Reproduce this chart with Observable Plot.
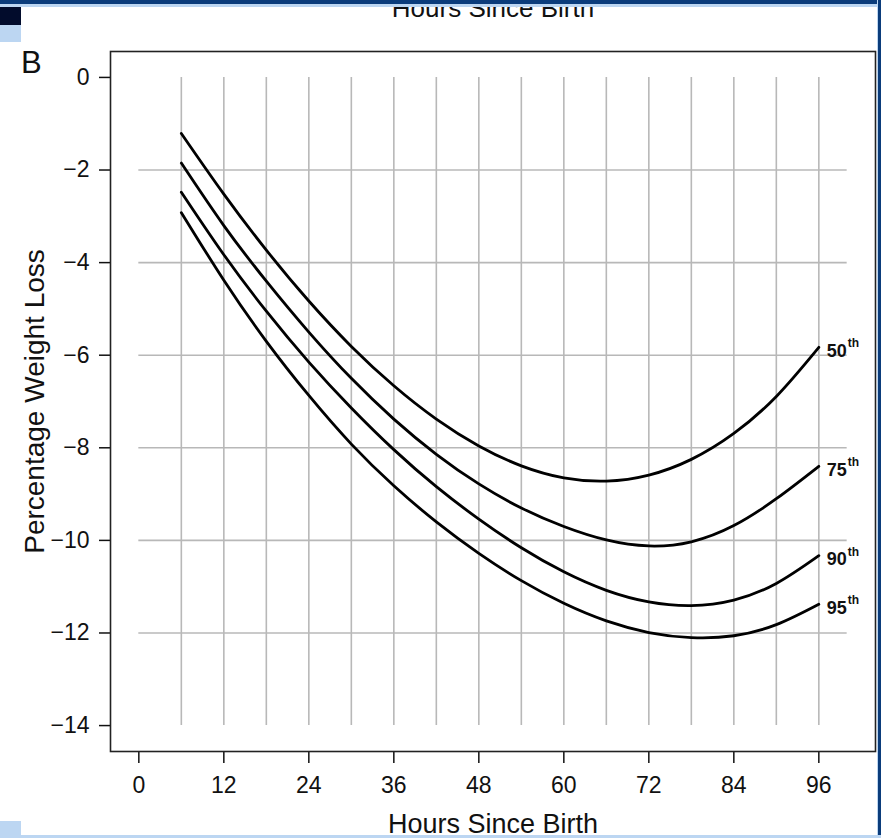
<!DOCTYPE html>
<html>
<head>
<meta charset="utf-8">
<script src="https://cdn.jsdelivr.net/npm/d3@7"></script>
<script src="https://cdn.jsdelivr.net/npm/@observablehq/plot@0.6"></script>
<style>
  html, body { margin: 0; padding: 0; background: #fff; }
  #wrap { position: relative; width: 881px; height: 838px; overflow: hidden;
          font-family: "Liberation Sans", Arial, sans-serif; background: #fff; }
  #wrap svg { position: absolute; left: 0; top: 0; }
  .deco { position: absolute; z-index: 3; }
  .txt { position: absolute; white-space: nowrap; color: #111; z-index: 1; }
</style>
</head>
<body>
<div id="wrap">
  <div class="txt" id="prevTitle" style="left:493px; top:-5px; font-size:26px; line-height:26px; transform:translateX(-50%);">Hours Since Birth</div>
  <div class="txt" id="panel" style="left:21px; top:47px; font-size:31px; line-height:31px;">B</div>
  <div class="deco" style="left:0; top:0; width:881px; height:4px; background:#0b3c7b;"></div>
  <div class="deco" style="left:0; top:4px; width:877px; height:3px; background:#bcd6f2;"></div>
  <div class="deco" style="left:0; top:7px; width:21px; height:18px; background:#020c2c;"></div>
  <div class="deco" style="left:0; top:25px; width:21px; height:17px; background:#bcd6f2;"></div>
  <div class="deco" style="left:877px; top:0; width:1px; height:838px; background:#bcd6f2;"></div>
  <div class="deco" style="left:878px; top:0; width:3px; height:838px; background:#0b3c7b;"></div>
  <div class="deco" style="left:0; top:835px; width:881px; height:3px; background:#bcd6f2;"></div>
  <div class="deco" style="left:0; top:821px; width:21px; height:17px; background:#bcd6f2;"></div>
</div>
<script>
// ---- data ----
const hours = [6, 12, 18, 24, 30, 36, 42, 48, 54, 60, 66, 72, 78, 84, 90, 96];
const p50 = [-1.21, -2.52, -3.73, -4.83, -5.81, -6.66, -7.38, -7.96, -8.39, -8.65, -8.72, -8.59, -8.25, -7.69, -6.89, -5.83];
const p75 = [-1.85, -3.20, -4.40, -5.50, -6.50, -7.38, -8.14, -8.78, -9.30, -9.70, -9.99, -10.12, -10.03, -9.68, -9.10, -8.40];
const p90 = [-2.48, -3.83, -5.05, -6.15, -7.14, -8.04, -8.84, -9.54, -10.16, -10.68, -11.08, -11.33, -11.41, -11.29, -10.93, -10.33];
const p95 = [-2.92, -4.38, -5.70, -6.87, -7.92, -8.82, -9.60, -10.28, -10.87, -11.36, -11.74, -11.99, -12.10, -12.06, -11.82, -11.38];
const percentiles = ["50", "75", "90", "95"];
const suffix = "th";

const xTicks = [0, 12, 24, 36, 48, 60, 72, 84, 96];
const yTicks = [0, -2, -4, -6, -8, -10, -12, -14];
const gridHours = [6, 12, 18, 24, 30, 36, 42, 48, 54, 60, 66, 72, 78, 84, 90, 96];
const gridValues = [-2, -4, -6, -8, -10, -12];
const xGridExtent = [0, 100];
const yGridExtent = [-14, 0];
const xDomain = [-4, 104];
const yDomain = [-14.56, 0.56];
const xLabel = "Hours Since Birth";
const yLabel = "Percentage Weight Loss";

// ---- build tables ----
const seriesValues = [p50, p75, p90, p95];
const rows = [];
seriesValues.forEach((vals, i) => {
  vals.forEach((v, j) => rows.push({hour: hours[j], value: v, pct: percentiles[i]}));
});
const ends = seriesValues.map((vals, i) => ({
  hour: hours[hours.length - 1], value: vals[vals.length - 1], pct: percentiles[i]
}));

const chart = Plot.plot({
  width: 881,
  height: 838,
  marginLeft: 110,
  marginRight: 6,
  marginTop: 51,
  marginBottom: 87,
  style: {fontFamily: "'Liberation Sans', Arial, sans-serif", color: "#111", background: "transparent"},
  x: {domain: xDomain},
  y: {domain: yDomain},
  marks: [
    Plot.ruleX(gridHours, {y1: yGridExtent[0], y2: yGridExtent[1], stroke: "#b8b8b8", strokeWidth: 1.6}),
    Plot.ruleY(gridValues, {x1: xGridExtent[0], x2: xGridExtent[1], stroke: "#b8b8b8", strokeWidth: 1.6}),
    Plot.line(rows, {x: "hour", y: "value", z: "pct", curve: "natural", stroke: "#000", strokeWidth: 2.8}),
    Plot.text(ends, {x: "hour", y: "value", text: "pct", textAnchor: "start", dx: 8, dy: 4,
      fontSize: 18, fontWeight: "bold", fill: "#111"}),
    Plot.text(ends, {x: "hour", y: "value", text: () => suffix, textAnchor: "start", dx: 29, dy: -4,
      fontSize: 12, fontWeight: "bold", fill: "#111"}),
    Plot.axisX(xTicks, {anchor: "bottom", tickSize: 12, tickPadding: 13, fontSize: 23, strokeWidth: 1.5,
      label: xLabel, labelAnchor: "center", labelOffset: 81, labelArrow: "none"}),
    Plot.axisY(yTicks, {anchor: "left", tickSize: 11, tickPadding: 10, fontSize: 23, strokeWidth: 1.5,
      label: yLabel, labelAnchor: "center", labelOffset: 86, labelArrow: "none"}),
    Plot.frame({stroke: "#222", strokeWidth: 1.6})
  ]
});
document.getElementById("wrap").prepend(chart);
// axis titles larger than tick labels
const setSize = (sel, s) => chart.querySelectorAll(sel).forEach(g => {
  g.setAttribute("font-size", s);
  g.querySelectorAll("text").forEach(t => t.setAttribute("font-size", s));
});
setSize("g[aria-label='x-axis label']", "27");
setSize("g[aria-label='y-axis label']", "28");
</script>
</body>
</html>
